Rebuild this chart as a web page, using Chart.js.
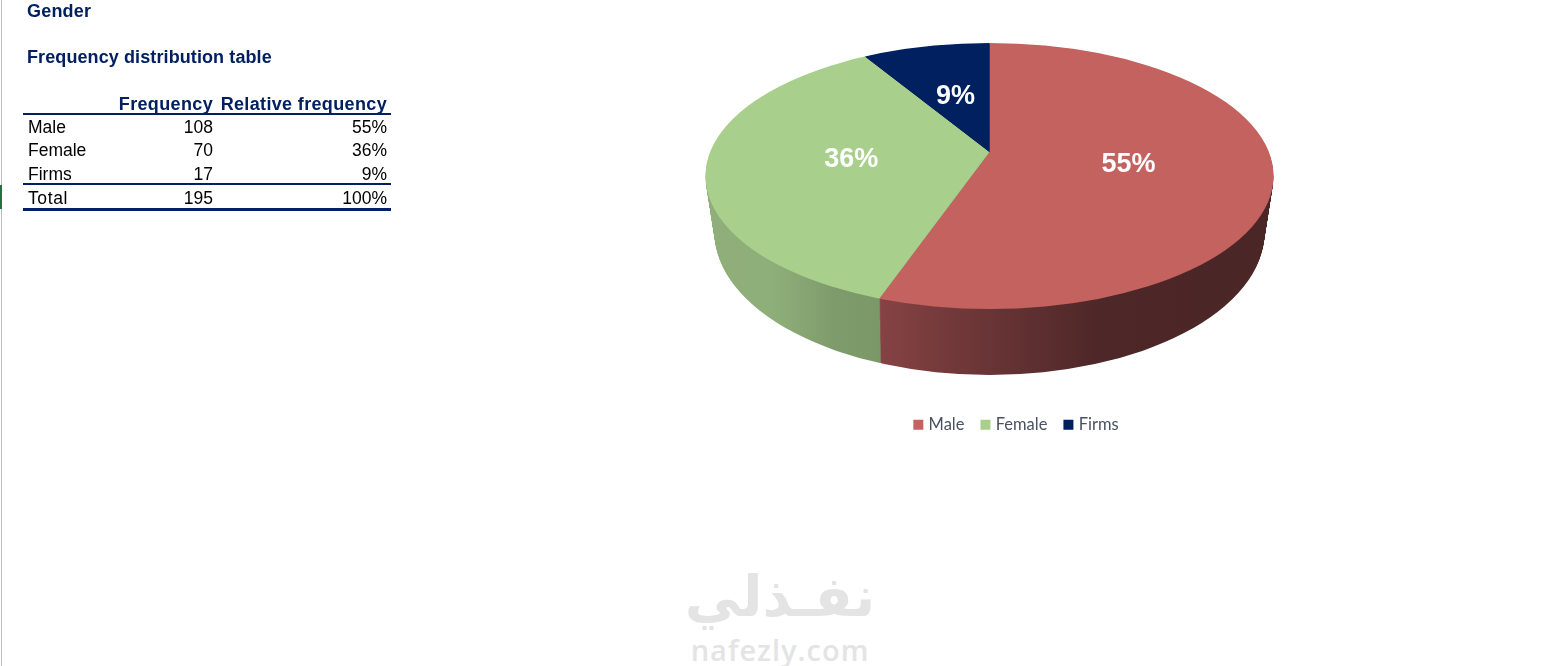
<!DOCTYPE html>
<html><head><meta charset="utf-8">
<style>
html,body{margin:0;padding:0;background:#fff;width:1563px;height:666px;overflow:hidden}
#wrap{position:relative;width:1563px;height:666px}
canvas{position:absolute;left:0;top:0}
.t{position:absolute;font-family:"Liberation Sans",Arial,sans-serif;font-size:17.5px;line-height:20px;color:#000;white-space:nowrap}
.b{font-weight:bold;color:#002060;font-size:18px;letter-spacing:.35px}
.r{text-align:right}
.rule{position:absolute;background:#002060;left:23px;width:368px}
#edge{position:absolute;left:1px;top:0;width:1px;height:666px;background:#bdbdbd}
#mark{position:absolute;left:0;top:185px;width:2px;height:24px;background:#217346}
#wmA{position:absolute;left:640px;width:280px;top:557px;text-align:center;font-family:"DejaVu Sans",sans-serif;font-weight:bold;font-size:56px;line-height:80px;color:#e4e4e4}
#wmB{position:absolute;left:640px;width:280px;top:632px;text-align:center;font-family:"Open Sans",sans-serif;font-weight:600;font-size:29px;line-height:36px;letter-spacing:1px;color:#e4e4e4}
</style></head>
<body><div id="wrap">
<div id="edge"></div><div id="mark"></div>
<div id="wmA" dir="rtl">نفـذلي</div><div id="wmB">nafezly.com</div>
<canvas id="c" width="1563" height="666"></canvas>
<div class="t b" style="left:27px;top:1px;letter-spacing:.2px">Gender</div>
<div class="t b" style="left:27px;top:47px;letter-spacing:.1px">Frequency distribution table</div>
<div id="table"></div>
</div>
<script src="https://cdn.jsdelivr.net/npm/chart.js@4"></script>
<script>
const categories=["Male","Female","Firms"];
const frequency=[108,70,17];
const relative=["55%","36%","9%"];
const totalRow=["Total","195","100%"];
const headers=["Frequency","Relative frequency"];
const topColors=["#C3625F","#A8CF8B","#002060"];
const wallStops=[
 [[880,"#864244"],[960,"#703839"],[1100,"#4e2728"],[1273,"#4a2626"]],
 [[706,"#8fae7a"],[770,"#8faf7a"],[835,"#7e9c6b"],[880,"#7a9868"]],
 [[860,"#001238"],[990,"#001238"]]
];
const labelRadius=[141,139,126];

const table=document.getElementById('table');
function cell(txt,cls,style){const d=document.createElement('div');d.className='t '+cls;d.style.cssText=style;d.textContent=txt;table.appendChild(d);}
function rightCell(txt,cls,right,top){cell(txt,cls+' r',`right:${1563-right}px;top:${top}px`);}
rightCell(headers[0],'b',213,94);rightCell(headers[1],'b',387,94);
const rowTops=[117,140,164];
categories.forEach((n,i)=>{cell(n,'',`left:28px;top:${rowTops[i]}px`);rightCell(String(frequency[i]),'',213,rowTops[i]);rightCell(relative[i],'',387,rowTops[i]);});
cell(totalRow[0],'','left:28px;top:188px;letter-spacing:.6px');rightCell(totalRow[1],'',213,188);rightCell(totalRow[2],'',387,188);
[[113,2],[183,2],[208,3]].forEach(([y,h])=>{const d=document.createElement('div');d.className='rule';d.style.top=y+'px';d.style.height=h+'px';table.appendChild(d);});

const apexX=989.5, apexY=152, squash=0.468;
const topEll={cx:989.5,cy:176,rx:284,ry:133};
const botEll={cx:989.5,cy:232,rx:275,ry:143};
const depth=66;

function ellipsePath(ctx,e){ctx.beginPath();ctx.ellipse(e.cx,e.cy,e.rx,e.ry,0,0,Math.PI*2);}
const pie3d={
 id:'pie3d',
 beforeDatasetsDraw(chart){
  const ctx=chart.ctx, arcs=chart.getDatasetMeta(0).data, cx=arcs[0].x, cy=arcs[0].y;
  const place=(dy)=>{ctx.translate(apexX,apexY+dy);ctx.scale(1,squash);ctx.translate(-cx,-cy);};
  const grads=wallStops.map(st=>{
    const g=ctx.createLinearGradient(st[0][0]-apexX+cx,0,st[st.length-1][0]-apexX+cx,0);
    const a=st[0][0],b=st[st.length-1][0];
    st.forEach(([x,c])=>g.addColorStop((x-a)/(b-a),c));return g;});
  for(let d=depth;d>=1;d--){
    const f=d/depth;
    const e={cx:topEll.cx,cy:topEll.cy+(botEll.cy-topEll.cy)*f,rx:topEll.rx+(botEll.rx-topEll.rx)*f,ry:topEll.ry+(botEll.ry-topEll.ry)*f};
    ctx.save();
    ellipsePath(ctx,e);ctx.clip();
    place(d);
    arcs.forEach((arc,i)=>{const o=arc.options;arc.options=Object.assign({},o,{backgroundColor:grads[i]});arc.draw(ctx);arc.options=o;});
    ctx.restore();
  }
  ctx.save();
  ellipsePath(ctx,topEll);ctx.clip();
  place(0);
 },
 afterDatasetsDraw(chart){
  const ctx=chart.ctx, arcs=chart.getDatasetMeta(0).data;
  ctx.restore();
  ctx.save();
  ctx.font='bold 27px "Liberation Sans",Arial,sans-serif';
  ctx.fillStyle='#fff';ctx.textAlign='center';ctx.textBaseline='middle';
  arcs.forEach((arc,i)=>{
    const mid=(arc.startAngle+arc.endAngle)/2;
    ctx.fillText(relative[i],apexX+Math.cos(mid)*labelRadius[i],apexY+Math.sin(mid)*labelRadius[i]*squash+1);
  });
  ctx.restore();
 }
};
new Chart(document.getElementById('c'),{
 type:'pie',
 data:{labels:categories,datasets:[{data:frequency,backgroundColor:topColors,borderWidth:0,clip:false,hoverOffset:0}]},
 options:{
  responsive:false,animation:false,radius:420,
  layout:{padding:{left:472,top:0,right:0,bottom:223}},
  plugins:{
   tooltip:{enabled:false},
   legend:{position:'bottom',labels:{usePointStyle:true,pointStyle:'rect',boxWidth:4,boxHeight:10,padding:19,color:'#4a5160',font:{family:'Lato, "Open Sans", sans-serif',size:16.5}}}
  }
 },
 plugins:[pie3d]
});
</script></body></html>
